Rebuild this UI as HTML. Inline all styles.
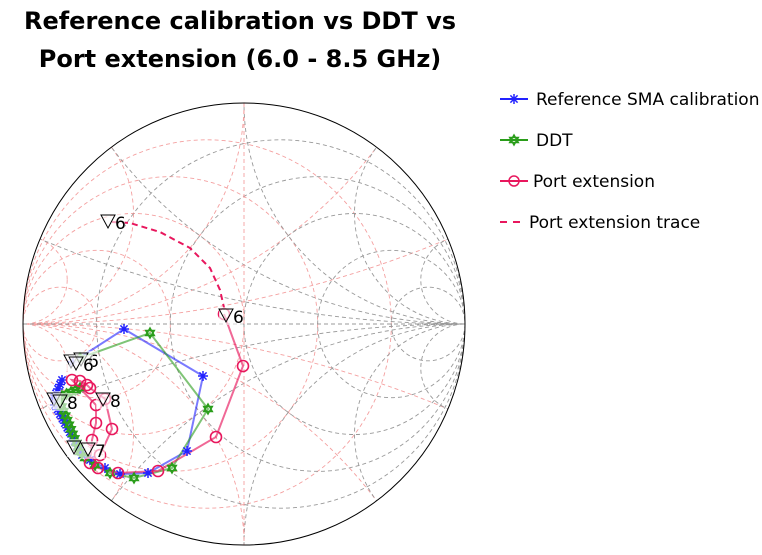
<!DOCTYPE html>
<html><head><meta charset="utf-8"><style>
html,body{margin:0;padding:0;background:#fff;width:762px;height:555px;overflow:hidden;font-family:"Liberation Sans","DejaVu Sans",sans-serif}
svg{display:block}
</style></head><body>
<svg id="s" width="762" height="555" xmlns="http://www.w3.org/2000/svg">
<defs><clipPath id="c"><circle cx="244" cy="324" r="221"/></clipPath></defs>
<text x="240" y="29" font-size="24" font-weight="bold" text-anchor="middle" font-family="DejaVu Sans, sans-serif">Reference calibration vs DDT vs</text>
<text x="240" y="67" font-size="24" font-weight="bold" text-anchor="middle" font-family="DejaVu Sans, sans-serif">Port extension (6.0 - 8.5 GHz)</text>
<g id="grid" clip-path="url(#c)" fill="none" stroke-width="0.9" stroke-dasharray="4,3"></g>
<circle cx="244" cy="324" r="221" fill="none" stroke="#000" stroke-width="1"/>
<g id="data"></g>
<g font-size="17" font-family="DejaVu Sans, sans-serif">
<line x1="500" y1="99" x2="528" y2="99" stroke="#2222ff" stroke-width="2"/>
<text x="536" y="105">Reference SMA calibration</text>
<line x1="500" y1="140" x2="528" y2="140" stroke="#2a9d1a" stroke-width="2"/>
<text x="536" y="146">DDT</text>
<line x1="500" y1="181" x2="528" y2="181" stroke="#e8175d" stroke-width="2"/>
<circle cx="514" cy="181" r="5" fill="none" stroke="#e8175d" stroke-width="1.5"/>
<text x="533" y="187">Port extension</text>
<line x1="500" y1="222" x2="520" y2="222" stroke="#e8175d" stroke-width="2" stroke-dasharray="7,6"/>
<text x="529" y="228">Port extension trace</text>
</g>
</svg>
<script>
var NS="http://www.w3.org/2000/svg",cx=244,cy=324,R=221;
function el(p,t,a){var e=document.createElementNS(NS,t);for(var k in a)e.setAttribute(k,a[k]);p.appendChild(e);return e;}
var g=document.getElementById('grid'),d=document.getElementById('data');
var vals=[0.2,0.5,1,2,5];
function grid(sign,col){
 vals.forEach(function(r){var rr=R/(1+r);el(g,'circle',{cx:cx+sign*(R-rr),cy:cy,r:rr,stroke:col});});
 vals.forEach(function(x){var rr=R/x;[1,-1].forEach(function(s){el(g,'circle',{cx:cx+sign*R,cy:cy+s*rr,r:rr,stroke:col});});});
 el(g,'line',{x1:cx-R,y1:cy,x2:cx+R,y2:cy,stroke:col});
}
grid(-1,'#f4a0a0');grid(1,'#999');
el(g,'line',{x1:cx,y1:cy-R,x2:cx,y2:cy+R,stroke:'#f4a0a0'});
function star(x,y,c){var s=5;el(d,'path',{d:'M'+(x-s)+' '+y+'H'+(x+s)+'M'+x+' '+(y-s)+'V'+(y+s)+'M'+(x-3.6)+' '+(y-3.6)+'L'+(x+3.6)+' '+(y+3.6)+'M'+(x-3.6)+' '+(y+3.6)+'L'+(x+3.6)+' '+(y-3.6),stroke:c,'stroke-width':1.5,fill:'none'});}
function hexa(x,y,c){var s=5;el(d,'path',{d:'M'+x+' '+(y-s)+'L'+(x+4.3)+' '+(y+2.5)+'L'+(x-4.3)+' '+(y+2.5)+'ZM'+x+' '+(y+s)+'L'+(x+4.3)+' '+(y-2.5)+'L'+(x-4.3)+' '+(y-2.5)+'Z',stroke:c,'stroke-width':1.5,fill:'#9fd78f'});}
function circ(x,y){el(d,'circle',{cx:x,cy:y,r:5.5,fill:'none',stroke:'#e8175d','stroke-width':1.6});}
star(514,99,'#2222ff');hexa(514,140,'#2a9d1a');
function line(pts,c,op,da){el(d,'polyline',{points:pts.map(function(p){return p.join(',')}).join(' '),fill:'none',stroke:c,'stroke-width':2,'stroke-opacity':op,'stroke-dasharray':da||'none'});}
function dense(a,b,n){var o=[];for(var i=0;i<n;i++){var t=i/(n-1);o.push([a[0]+(b[0]-a[0])*t,a[1]+(b[1]-a[1])*t]);}return o;}
line([[112,222],[130,223],[160,232],[190,248],[210,268],[220,290],[225,312]],'#e8175d',1,'6,4');
var blue=[[73,362],[124,329],[203,376],[187,451],[148,473],[120,474],[105,468],[90,460]].concat(dense([82,455],[55,405],12)).concat(dense([54,398],[62,380],5));
var green=[[80,358],[150,333],[208,409],[172,468],[134,478],[110,473],[95,465],[85,458]].concat(dense([80,452],[60,402],12)).concat(dense([62,396],[80,388],5));
var pink=[[224,314],[243,366],[216,437],[158,471],[118,473],[98,468],[90,463],[92,440],[96,423],[96,405],[72,380],[80,381],[87,385],[90,388],[105,399],[112,429],[100,455]];
line(blue,'#2222ff',0.6);line(green,'#2a9d1a',0.6);line(pink,'#e8175d',0.65);
blue.forEach(function(p){star(p[0],p[1],'#2222ff');});
green.forEach(function(p){hexa(p[0],p[1],'#2a9d1a');});
pink.forEach(function(p){circ(p[0],p[1]);});
function tri(x,y,lab){el(d,'rect',{x:x-7,y:y-9,width:lab?24:14,height:18,fill:'#fff','fill-opacity':0.6});
 el(d,'path',{d:'M'+(x-7)+' '+(y-7)+'L'+(x+7)+' '+(y-7)+'L'+x+' '+(y+6)+'Z',fill:'none',stroke:'#000','stroke-width':1});
 if(lab){var t=el(d,'text',{x:x+7,y:y+7,'font-size':17,'font-family':'DejaVu Sans, sans-serif'});t.textContent=lab;}}
tri(108,222,'6');tri(226,316,'6');tri(71,362,'');tri(81,360,'6');tri(76,364,'6');
tri(54,400,'');tri(60,402,'8');tri(103,400,'8');tri(74,448,'');tri(88,450,'7');
</script>
</body></html>
